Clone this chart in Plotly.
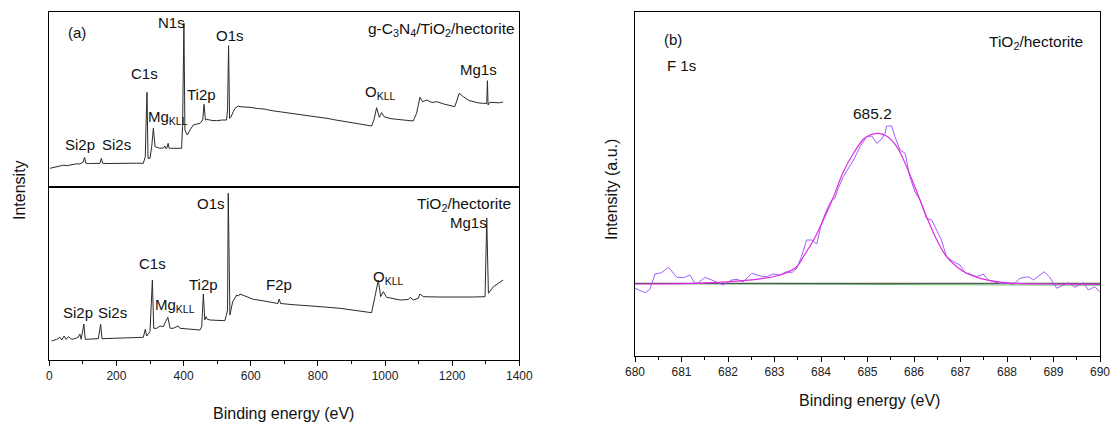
import plotly.graph_objects as go

# ---------------- data ----------------
# (a) survey spectrum, g-C3N4/TiO2/hectorite (binding energy eV, intensity a.u.)
E_top = [2, 12, 22, 32, 42, 52, 62, 72, 82, 91, 98, 101, 105, 109, 120, 135, 151, 155, 159,
         175, 200, 220, 240, 260, 280, 286, 288, 291, 294, 300, 305, 310, 315, 330, 340, 344,
         347, 350, 354, 357, 360, 375, 394, 397, 401, 404, 411, 419, 429, 440, 449, 457, 461,
         465, 469, 485, 499, 515, 528, 531, 534, 537, 541, 548, 553, 563, 568, 580, 598, 620,
         640, 660, 687, 710, 730, 750, 786, 810, 830, 850, 886, 910, 935, 960, 967, 975, 983,
         990, 997, 1015, 1035, 1060, 1084, 1094, 1104, 1112, 1124, 1140, 1154, 1175, 1194,
         1208, 1221, 1233, 1250, 1263, 1280, 1293, 1303, 1305, 1307, 1312, 1323, 1340, 1352]
I_top = [18.7, 19.5, 20.5, 21.0, 21.8, 21.3, 22.0, 22.6, 23.2, 23.0, 24.3, 25.0, 29.7, 23.7,
         23.5, 23.8, 23.7, 28.7, 23.7, 23.5, 23.8, 23.7, 23.6, 23.8, 23.7, 30.3, 60.3, 94.7,
         28.7, 28.7, 40.3, 58.7, 40.3, 38.7, 39.0, 41.0, 38.5, 38.7, 43.7, 38.7, 38.7, 38.7,
         38.7, 60.3, 163.7, 57.0, 52.0, 57.0, 62.0, 63.0, 63.7, 67.0, 82.7, 67.0, 67.7, 66.5,
         66.3, 67.0, 67.0, 77.0, 141.3, 68.7, 70.0, 75.3, 78.7, 81.0, 80.3, 80.0, 79.7, 78.5,
         78.0, 76.5, 75.3, 74.2, 73.5, 72.5, 70.3, 69.5, 68.5, 67.2, 65.3, 64.0, 62.5, 61.0,
         67.0, 79.3, 69.7, 74.3, 70.3, 68.5, 67.7, 67.0, 66.0, 73.7, 89.7, 85.3, 87.0, 84.5,
         85.3, 83.0, 81.0, 80.3, 93.7, 90.3, 86.5, 85.3, 84.0, 83.7, 83.5, 106.3, 82.0, 84.7,
         84.7, 84.2, 85.0]

# (a) survey spectrum, TiO2/hectorite
E_bot = [7, 22, 32, 37, 44, 50, 57, 67, 77, 86, 91, 95, 103, 107, 146, 153, 157, 220, 280,
         286, 290, 300, 307, 311, 320, 330, 340, 345, 353, 360, 369, 384, 389, 449, 454, 459,
         463, 467, 471, 479, 523, 531, 533, 538, 546, 558, 563, 568, 608, 640, 667, 681, 685,
         689, 720, 767, 820, 866, 910, 960, 970, 980, 987, 995, 1005, 1045, 1070, 1075, 1084,
         1099, 1104, 1114, 1160, 1214, 1260, 1298, 1303, 1308, 1323, 1338, 1352]
I_bot = [19.0, 20.7, 22.7, 20.0, 24.0, 20.7, 23.3, 20.7, 21.3, 22.7, 26.0, 20.7, 36.0, 20.7,
         21.3, 35.7, 21.3, 21.7, 22.7, 30.7, 24.0, 28.3, 80.0, 31.7, 31.7, 34.0, 33.3, 37.3,
         42.7, 31.7, 31.7, 34.0, 31.7, 30.0, 33.3, 66.0, 40.0, 43.3, 40.7, 40.0, 39.3, 50.0,
         166.7, 45.0, 58.0, 65.0, 64.0, 66.0, 60.7, 59.0, 57.3, 56.5, 61.0, 56.5, 55.5, 54.0,
         53.0, 51.7, 49.5, 47.3, 63.3, 80.0, 63.3, 68.3, 62.7, 60.0, 60.5, 62.7, 60.0, 61.7,
         66.0, 63.3, 63.0, 62.7, 63.0, 63.3, 141.7, 66.7, 73.3, 76.7, 80.0]

# (b) F 1s high-resolution spectrum
E_raw = [680.00, 680.22, 680.32, 680.43, 680.57, 680.72, 680.90, 681.04, 681.18, 681.29,
         681.36, 681.51, 681.65, 681.79, 681.90, 682.08, 682.19, 682.33, 682.51, 682.69,
         682.83, 682.97, 683.12, 683.26, 683.37, 683.48, 683.58, 683.69, 683.80, 683.91,
         684.01, 684.12, 684.23, 684.30, 684.37, 684.48, 684.59, 684.70, 684.84, 684.98,
         685.09, 685.20, 685.30, 685.38, 685.41, 685.52, 685.59, 685.70, 685.81, 685.91,
         686.02, 686.13, 686.27, 686.38, 686.52, 686.59, 686.70, 686.85, 686.99, 687.10,
         687.20, 687.35, 687.49, 687.60, 687.71, 687.85, 688.03, 688.14, 688.28, 688.46,
         688.57, 688.67, 688.80, 688.92, 689.07, 689.21, 689.32, 689.46, 689.64, 689.75,
         689.89, 689.99]
I_raw = [67.7, 63.3, 66.7, 82.0, 83.3, 88.7, 78.7, 78.3, 81.0, 72.7, 73.3, 78.7, 76.0, 73.3,
         71.0, 76.0, 76.7, 74.3, 82.7, 80.0, 79.3, 82.0, 81.0, 84.3, 83.3, 87.7, 99.3, 116.0,
         116.0, 112.0, 132.7, 146.0, 156.0, 157.7, 167.7, 179.3, 187.7, 196.0, 209.3, 219.3,
         220.0, 212.7, 216.7, 222.7, 230.0, 230.0, 219.3, 206.0, 202.7, 179.3, 164.3, 156.0,
         137.7, 136.0, 122.7, 116.0, 99.3, 94.3, 91.0, 83.3, 82.0, 79.3, 82.0, 76.0, 74.3,
         72.7, 72.7, 71.7, 77.7, 79.3, 76.0, 79.3, 84.3, 78.7, 67.7, 71.0, 73.3, 68.7, 73.3,
         66.0, 69.3, 64.3]

E_fit = [680.00, 681.33, 682.04, 682.76, 683.12, 683.48, 683.62, 683.84, 684.05, 684.27,
         684.48, 684.70, 684.91, 685.05, 685.23, 685.41, 685.63, 685.84, 686.06, 686.27,
         686.49, 686.70, 686.92, 687.13, 687.42, 687.78, 688.14, 688.85, 690.00]
I_fit = [72.0, 72.7, 74.3, 77.7, 81.0, 89.3, 99.3, 116.0, 136.0, 159.3, 184.3, 202.7, 216.7,
         221.0, 222.7, 220.0, 209.3, 189.3, 164.3, 139.3, 116.0, 99.3, 89.3, 82.7, 77.7, 74.3,
         72.7, 72.0, 71.7]

E_bg = [680, 690]
I_bg_black = [72.7, 72.7]
I_bg_green = [72.3, 70.8]

# ---------------- figure ----------------
W, H = 1111, 425
def fx(x):
    return x / W
def fy(y):
    return 1 - y / H

FONT = "Liberation Sans, Arial, sans-serif"
fig = go.Figure()

fig.add_trace(go.Scatter(x=E_top, y=I_top, mode="lines", xaxis="x2", yaxis="y",
                         line=dict(color="#2b2b2b", width=1), showlegend=False))
fig.add_trace(go.Scatter(x=E_bot, y=I_bot, mode="lines", xaxis="x", yaxis="y2",
                         line=dict(color="#2b2b2b", width=1), showlegend=False))
fig.add_trace(go.Scatter(x=E_bg, y=I_bg_green, mode="lines", xaxis="x3", yaxis="y3",
                         line=dict(color="#5fb85f", width=1), showlegend=False))
fig.add_trace(go.Scatter(x=E_bg, y=I_bg_black, mode="lines", xaxis="x3", yaxis="y3",
                         line=dict(color="#333333", width=1), showlegend=False))
fig.add_trace(go.Scatter(x=E_raw, y=I_raw, mode="lines", xaxis="x3", yaxis="y3",
                         line=dict(color="#a15cff", width=1), showlegend=False))
fig.add_trace(go.Scatter(x=E_fit, y=I_fit, mode="lines", xaxis="x3", yaxis="y3",
                         line=dict(color="#e02be0", width=1.2, shape="spline"), showlegend=False))

box = dict(showline=True, mirror=True, linecolor="black", linewidth=1,
           showgrid=False, zeroline=False, automargin=False)
noticks = dict(showticklabels=False, ticks="")
tickfont = dict(family=FONT, size=12, color="#222")

dom_a = [fx(49.3), fx(519.3)]
dom_b = [fx(635), fx(1100)]

fig.update_layout(
    width=W, height=H, margin=dict(l=0, r=0, t=0, b=0, autoexpand=False),
    paper_bgcolor="white", plot_bgcolor="white",
    font=dict(family=FONT, color="#111"),
    xaxis=dict(domain=dom_a, range=[0, 1400], anchor="y2", ticks="outside", ticklen=5,
               tickwidth=1, tickcolor="black", tick0=0, dtick=200, tickfont=tickfont,
               minor=dict(dtick=100, ticks="outside", ticklen=3, tickcolor="black"), **box),
    xaxis2=dict(domain=dom_a, range=[0, 1400], anchor="y", matches="x", **noticks, **box),
    yaxis=dict(domain=[fy(187), fy(12)], range=[0, 175], anchor="x2", **noticks, **box),
    yaxis2=dict(domain=[fy(360), fy(187)], range=[0, 173], anchor="x", **noticks, **box),
    xaxis3=dict(domain=dom_b, range=[680, 690], anchor="y3", ticks="outside", ticklen=5,
                tickwidth=1, tickcolor="black", tick0=680, dtick=1, tickfont=tickfont,
                minor=dict(dtick=0.5, ticks="outside", ticklen=3, tickcolor="black"), **box),
    yaxis3=dict(domain=[fy(356), fy(12)], range=[0, 344], anchor="x3", **noticks, **box),
)

# text labels: (text, x px, y px, xanchor, size)
labels = [
    ("(a)", 77, 32, "center", 15),
    ("N1s", 171, 23, "center", 15),
    ("O1s", 229.5, 35, "center", 15),
    ("g-C<sub>3</sub>N<sub>4</sub>/TiO<sub>2</sub>/hectorite", 517, 30, "right", 15.5),
    ("C1s", 144, 73, "center", 15),
    ("Mg<sub>KLL</sub>", 168, 118, "center", 15),
    ("Ti2p", 201, 94, "center", 15),
    ("Si2p", 80, 144, "center", 15),
    ("Si2s", 116, 144, "center", 15),
    ("O<sub>KLL</sub>", 380, 93, "center", 15),
    ("Mg1s", 478, 70, "center", 15),
    ("O1s", 211, 203, "center", 15),
    ("TiO<sub>2</sub>/hectorite", 513, 204, "right", 15.5),
    ("Mg1s", 468, 223, "center", 15),
    ("C1s", 152, 263, "center", 15),
    ("O<sub>KLL</sub>", 388, 277, "center", 15),
    ("Ti2p", 203, 284, "center", 15),
    ("F2p", 279, 284, "center", 15),
    ("Mg<sub>KLL</sub>", 175, 305, "center", 15),
    ("Si2p", 77.5, 312, "center", 15),
    ("Si2s", 112, 312, "center", 15),
    ("(b)", 673, 39, "center", 15),
    ("F 1s", 665, 66, "left", 15),
    ("TiO<sub>2</sub>/hectorite", 1085, 42, "right", 15.5),
    ("685.2", 872, 113, "center", 15.5),
    ("Binding energy (eV)", 283, 413, "center", 16),
    ("Binding energy (eV)", 869, 400, "center", 16),
]
for text, x, y, xa, size in labels:
    fig.add_annotation(text=text, x=fx(x), y=fy(y), xref="paper", yref="paper",
                       xanchor=xa, yanchor="middle", showarrow=False,
                       font=dict(family=FONT, size=size, color="#111"))

for text, x, y in [("Intensity", 20, 190), ("Intensity (a.u.)", 612, 190)]:
    fig.add_annotation(text=text, x=fx(x), y=fy(y), xref="paper", yref="paper",
                       xanchor="center", yanchor="middle", showarrow=False, textangle=-90,
                       font=dict(family=FONT, size=16, color="#111"))

fig.write_html("out.html")
